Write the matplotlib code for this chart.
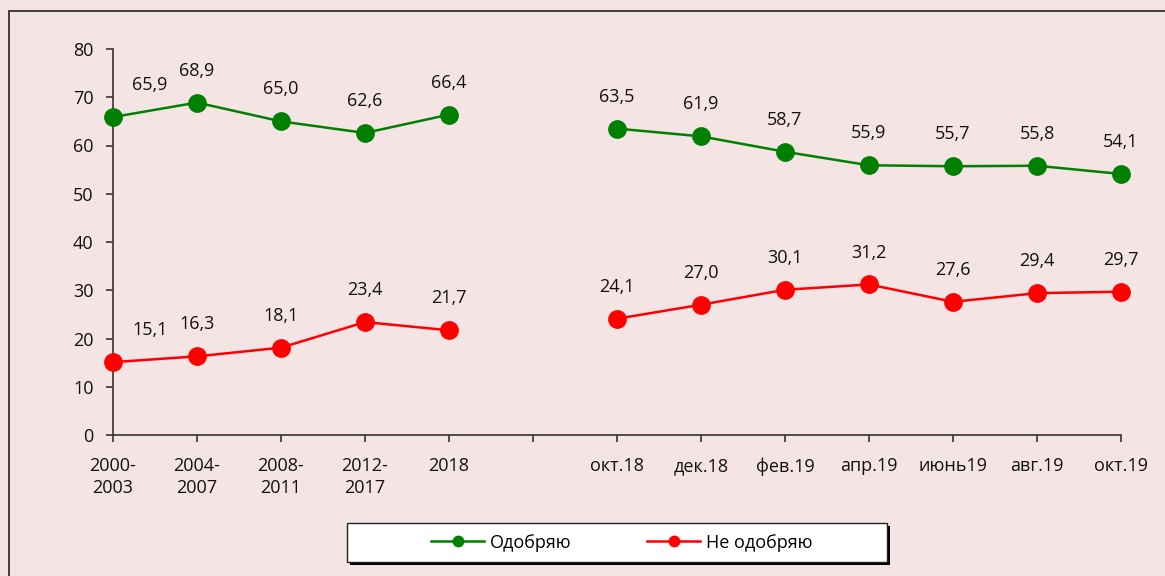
import numpy as np
import matplotlib
matplotlib.use("Agg")
import matplotlib.pyplot as plt
from matplotlib.patches import Rectangle

plt.rcParams['font.family'] = ['Open Sans', 'DejaVu Sans']

categories = ["2000-\n2003", "2004-\n2007", "2008-\n2011", "2012-\n2017", "2018", "",
              "окт.18", "дек.18", "фев.19", "апр.19", "июнь19", "авг.19", "окт.19"]
approve = [65.9, 68.9, 65.0, 62.6, 66.4, np.nan, 63.5, 61.9, 58.7, 55.9, 55.7, 55.8, 54.1]
disapprove = [15.1, 16.3, 18.1, 23.4, 21.7, np.nan, 24.1, 27.0, 30.1, 31.2, 27.6, 29.4, 29.7]
series_names = ["Одобряю", "Не одобряю"]
yticks = [0, 10, 20, 30, 40, 50, 60, 70, 80]

W, H = 1165, 576
bg = "#F5E4E4"
fs = 13
fig = plt.figure(figsize=(W / 100, H / 100), dpi=100, facecolor=bg)

# outer frame
fig.patches.append(Rectangle((9 / W, -0.05), 1.2, 1 - 11 / H + 0.05, transform=fig.transFigure,
                             fill=False, edgecolor="#222222", linewidth=1.2, zorder=0))

ax = fig.add_axes([113 / W, (H - 435) / H, (1121 - 113) / W, (435 - 49) / H])
ax.set_facecolor(bg)
ax.patch.set_alpha(0)

x = np.arange(len(categories))
colors = ["#008000", "#FF0000"]
lines = []
for vals, c, name in zip([approve, disapprove], colors, series_names):
    ln, = ax.plot(x, vals, color=c, lw=1.8, marker="o", ms=12.5, mfc=c, mec=c,
                  label=name, clip_on=False, zorder=3)
    lines.append(ln)
    for i, v in enumerate(vals):
        if np.isnan(v):
            continue
        dx = 37 if i == 0 else 0
        ax.annotate(f"{v:.1f}".replace(".", ","), (i, v), xytext=(dx * 0.72, 23),
                    textcoords="offset points", ha="center", va="center",
                    fontsize=fs, color="#111111")

ax.set_xlim(0, len(categories) - 1)
ax.set_ylim(0, 80)
ax.set_yticks(yticks)
ax.set_xticks(x)
ax.set_xticklabels(categories, linespacing=1.3, va="top")
for s in ["top", "right"]:
    ax.spines[s].set_visible(False)
for s in ["left", "bottom"]:
    ax.spines[s].set_color("#333333")
    ax.spines[s].set_linewidth(1.2)
ax.tick_params(axis="both", direction="out", length=5, width=1.2, color="#333333",
               labelsize=fs, labelcolor="#111111")
ax.tick_params(axis="y", pad=9)
ax.tick_params(axis="x", pad=11)

# legend box with shadow
lx0, ly0, lx1, ly1 = 347, 523, 887, 562
fig.patches.append(Rectangle(((lx0 + 3) / W, (H - ly1 - 3) / H), (lx1 - lx0) / W, (ly1 - ly0) / H,
                             transform=fig.transFigure, facecolor="black", edgecolor="none", zorder=1))
fig.patches.append(Rectangle((lx0 / W, (H - ly1) / H), (lx1 - lx0) / W, (ly1 - ly0) / H,
                             transform=fig.transFigure, facecolor="white", edgecolor="#222222",
                             linewidth=1.0, zorder=2))
leg = fig.legend(handles=lines, labels=series_names, loc="center",
                 bbox_to_anchor=(622 / W, (H - 542.5) / H), ncol=2, frameon=False,
                 fontsize=fs, handlelength=2.9, columnspacing=4.2, handletextpad=0.35,
                 markerscale=0.6)
leg.set_zorder(5)

fig.savefig("out.png", dpi=100, facecolor=bg)
